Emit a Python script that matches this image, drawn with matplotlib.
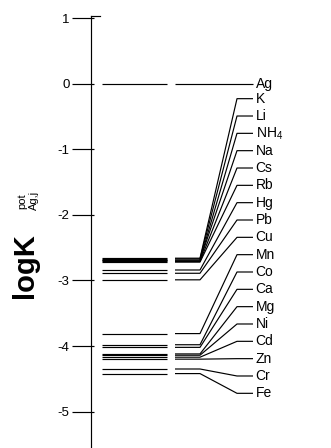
import numpy as np
import matplotlib.pyplot as plt

plt.rcParams['font.family'] = 'Liberation Sans'
plt.rcParams['mathtext.fontset'] = 'custom'
plt.rcParams['mathtext.rm'] = 'Liberation Sans'
plt.rcParams['mathtext.it'] = 'Liberation Sans'
plt.rcParams['axes.unicode_minus'] = False

# interfering ions and their selectivity coefficients (log K pot Ag,j)
ions = ['Ag', 'K', 'Li', 'NH$_4$', 'Na', 'Cs', 'Rb', 'Hg', 'Pb', 'Cu',
        'Mn', 'Co', 'Ca', 'Mg', 'Ni', 'Cd', 'Zn', 'Cr', 'Fe']
logk = [0.0, -2.66, -2.67, -2.69, -2.69, -2.71, -2.72, -2.84, -2.89, -2.99,
        -3.81, -3.98, -4.02, -4.12, -4.14, -4.17, -4.20, -4.35, -4.42]
yticks = [1, 0, -1, -2, -3, -4, -5]

fig = plt.figure(figsize=(3.31, 4.48), dpi=100)
ax = fig.add_axes([91/331, 0, 240/331, 432/448])
ax.set_xlim(91, 331)
ax.set_ylim(-5.555, 1.034)

# labels spread evenly on the right, Ag sits on its own level
label_y = [logk[0]] + list(np.linspace(-0.227, -4.721, len(ions) - 1))

for v, ly, name in zip(logk, label_y, ions):
    ax.plot([102, 167], [v, v], color='k', lw=0.85, solid_capstyle='butt')
    ax.plot([175, 200, 237, 253], [v, v, ly, ly], color='k', lw=0.85,
            solid_capstyle='butt')
    ax.text(255.5, ly, name, va='center', ha='left', fontsize=10)

ax.spines[['top', 'right', 'bottom']].set_visible(False)
ax.spines['left'].set_linewidth(0.85)
ax.set_xticks([])
ax.set_yticks(yticks)
ax.set_yticklabels([str(t) for t in yticks])
ax.tick_params(axis='y', direction='out', length=13.7, width=0.85, pad=1.8, labelsize=9.5)
ax.yaxis.remove_overlapping_locs = False
ax.set_yticks(yticks, minor=True)
ax.tick_params(axis='y', which='minor', direction='in', length=2.5, width=0.85)
ax.plot([91, 100], [1.034, 1.034], color='k', lw=0.85, clip_on=False)

fig.text(25/331, 1 - 266/448, 'logK', rotation=90, fontsize=21, fontweight='bold',
         ha='center', va='center')
fig.text(22.5/331, 1 - 201/448, 'pot', rotation=90, fontsize=8, ha='center', va='center')
fig.text(34/331, 1 - 200/448, 'Ag,j', rotation=90, fontsize=8, ha='center', va='center')

fig.savefig('out.png', dpi=100)
